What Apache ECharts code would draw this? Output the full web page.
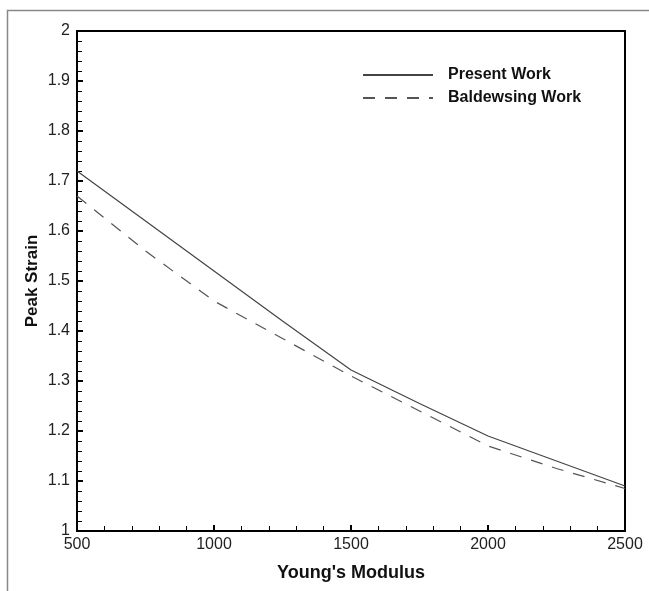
<!DOCTYPE html>
<html>
<head>
<meta charset="utf-8">
<script src="https://cdn.jsdelivr.net/npm/echarts@6/dist/echarts.min.js"></script>
<style>
  html, body { margin: 0; padding: 0; background: #fff; }
  #chart { width: 649px; height: 591px; }
</style>
</head>
<body>
<div id="chart"></div>
<script>
// Young's modulus values (x)
const modulus = [500, 750, 1000, 1250, 1500, 1750, 2000, 2250, 2500]
// peak strain, present work
const presentWork = [1.72, 1.62, 1.52, 1.42, 1.322, 1.255, 1.19, 1.14, 1.09]
// peak strain, Baldewsing work
const baldewsingWork = [1.67, 1.56, 1.46, 1.385, 1.31, 1.24, 1.17, 1.125, 1.085]

const pairs = (xs, ys) => xs.map((x, i) => [x, ys[i]])

const chart = echarts.init(document.getElementById('chart'))

const labelFont = {
  color: '#222',
  fontFamily: 'Liberation Sans, Arial, sans-serif',
  fontSize: 16
}
const nameFont = {
  color: '#111',
  fontFamily: 'Liberation Sans, Arial, sans-serif',
  fontSize: 17,
  fontWeight: 'bold'
}

const option = {
  animation: false,
  backgroundColor: '#fff',
  graphic: [
    {
      type: 'rect',
      shape: { x: 7.5, y: 10.5, width: 700, height: 700 },
      style: { fill: 'none', stroke: '#888', lineWidth: 1.5 },
      silent: true
    }
  ],
  grid: {
    left: 77,
    right: 24,
    top: 31,
    bottom: 60,
    show: true,
    borderColor: '#000',
    borderWidth: 2
  },
  legend: {
    orient: 'vertical',
    left: 362,
    top: 67,
    padding: 0,
    itemWidth: 70,
    itemHeight: 14,
    itemGap: 7,
    itemStyle: { opacity: 0 },
    textStyle: {
      color: '#111',
      fontFamily: 'Liberation Sans, Arial, sans-serif',
      fontSize: 16,
      fontWeight: 'bold',
      padding: [0, 0, 0, 10]
    },
    data: ['Present Work', 'Baldewsing Work']
  },
  xAxis: {
    type: 'value',
    min: 500,
    max: 2500,
    interval: 500,
    name: "Young's Modulus",
    nameLocation: 'middle',
    nameGap: 33,
    nameTextStyle: Object.assign({}, nameFont, { fontSize: 18 }),
    axisLine: { show: true, onZero: false, lineStyle: { color: '#000', width: 2 } },
    axisTick: { show: true, inside: true, length: 6, lineStyle: { color: '#000', width: 2 } },
    minorTick: { show: true, splitNumber: 5, length: 5, lineStyle: { color: '#000', width: 1 } },
    axisLabel: Object.assign({ margin: 6, formatter: v => String(v) }, labelFont),
    splitLine: { show: false }
  },
  yAxis: {
    type: 'value',
    min: 1,
    max: 2,
    interval: 0.1,
    name: 'Peak Strain',
    nameLocation: 'middle',
    nameGap: 36,
    nameMoveOverlap: false,
    nameTextStyle: nameFont,
    axisLine: { show: true, onZero: false, lineStyle: { color: '#000', width: 2 } },
    axisTick: { show: true, inside: true, length: 6, lineStyle: { color: '#000', width: 2 } },
    minorTick: { show: true, splitNumber: 5, length: 5, lineStyle: { color: '#000', width: 1 } },
    axisLabel: Object.assign({ margin: 7, formatter: v => String(Math.round(v * 10) / 10) }, labelFont),
    splitLine: { show: false }
  },
  series: [
    {
      name: 'Present Work',
      type: 'line',
      data: pairs(modulus, presentWork),
      symbol: 'none',
      color: '#444',
      lineStyle: { color: '#444', width: 1.2, type: 'solid' }
    },
    {
      name: 'Baldewsing Work',
      type: 'line',
      data: pairs(modulus, baldewsingWork),
      symbol: 'none',
      color: '#555',
      lineStyle: { color: '#555', width: 1.2, type: [12, 10] }
    }
  ]
}

chart.setOption(option)
</script>
</body>
</html>
